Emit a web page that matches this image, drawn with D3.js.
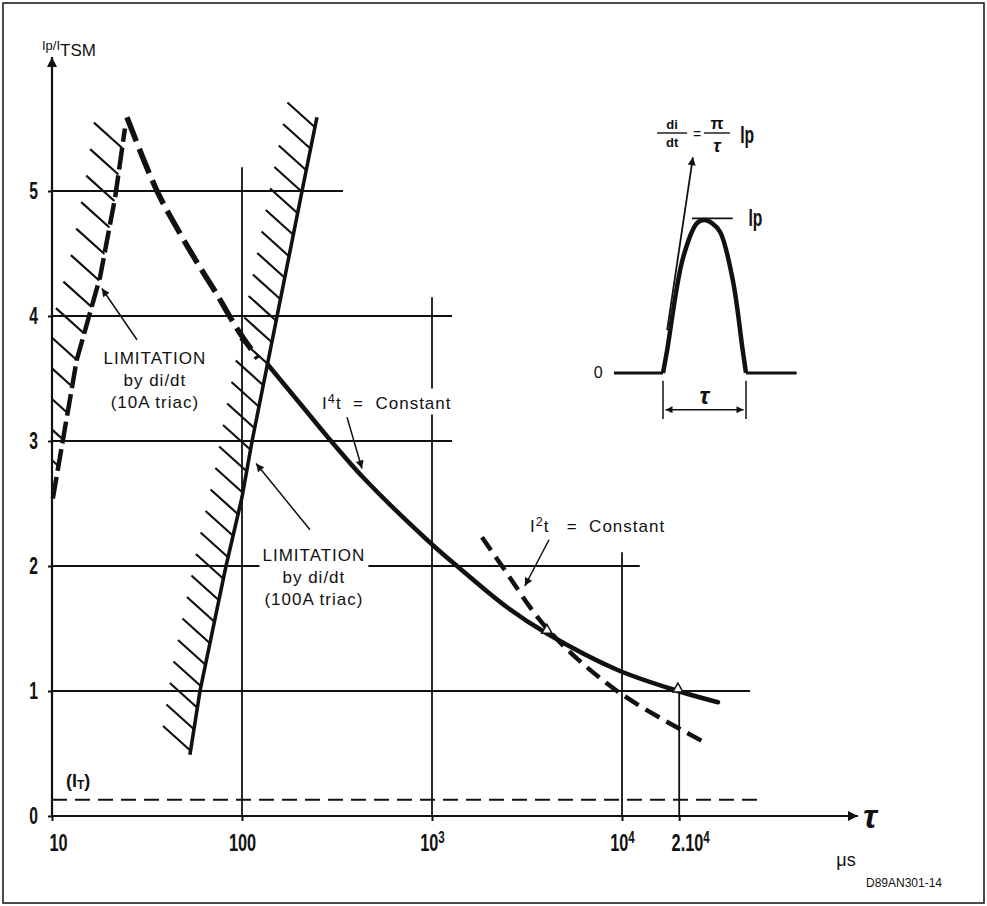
<!DOCTYPE html>
<html><head><meta charset="utf-8">
<script src="https://cdn.jsdelivr.net/npm/d3@7"></script>
<style>
body{margin:0;background:#fff;}
svg{display:block;}
text{font-family:"Liberation Sans",Arial,Helvetica,sans-serif;fill:#111;}
.nar{font-family:"Liberation Sans",Arial,sans-serif;font-weight:bold;}
</style>
</head><body>
<svg id="c" width="987" height="906"></svg>
<script>
// ---------------- DATA ----------------
const xTickValues = [10, 100, 1000, 10000, 20000];
const xTickLabels = ["10", "100", "10^3", "10^4", "2.10^4"];
const yTickValues = [0, 1, 2, 3, 4, 5];
const yTickLabels = ["0", "1", "2", "3", "4", "5"];

// I^4 t = Constant (solid)
const i4tTime  = [137, 202, 298, 433, 988, 1403, 2483, 4027, 9420, 19700, 32000];
const i4tValue = [3.61, 3.30, 2.99, 2.71, 2.18, 1.98, 1.67, 1.46, 1.17, 1.00, 0.91];
// its dashed extension to the left
const i4tExtTime  = [24.8, 35.7, 47.2, 60.1, 72, 95, 121];
const i4tExtValue = [5.59, 5.00, 4.66, 4.39, 4.20, 3.89, 3.66];
// I^2 t = Constant (dashed)
const i2tTime  = [1833, 2335, 4080, 9420, 26400];
const i2tValue = [2.23, 2.00, 1.49, 1.00, 0.60];
// di/dt limitation, 10A triac (dashed, hatched)
const lim10Time  = [10.1, 13.5, 17.9, 21.5, 24.2];
const lim10Value = [2.54, 3.65, 4.31, 4.95, 5.50];
// di/dt limitation, 100A triac (solid, hatched)
const lim100Time  = [53.2, 60.1, 82.4, 100, 113, 153, 207, 248];
const lim100Value = [0.49, 1.00, 2.00, 2.55, 3.00, 4.00, 5.00, 5.59];
// (I_T) level
const itLevel = 0.13, itEndTime = 52000;
// grid segments
const gridHValues = [5, 4, 3, 2, 1];
const gridHEndTime = [340, 1275, 1275, 12400, 47200];
const gridVTimes = [100, 1000, 10000, 20000];
const gridVTop = [5.19, 4.15, 2.11, 1.00];
// marked points on curves
const markTime = [4027, 19700];
const markValue = [1.47, 1.00];
// inset pulse (normalised time, normalised current)
const pulseX = [0, 0.05, 0.24, 0.41, 0.5, 0.59, 0.69, 0.84, 0.96, 1];
const pulseY = [0, 0.15, 0.75, 0.98, 1, 0.98, 0.92, 0.61, 0.15, 0];

// ---------------- SETUP ----------------
const svg = d3.select("#c");
const x = d3.scaleLog().domain([10, 1e5]).range([52, 812]);
const y = d3.scaleLinear().domain([0, 6]).range([816, 66]);
const ink = "#111";
const SQ = 0.68; // horizontal squeeze for condensed bold labels

const defs = svg.append("defs");
function mk(id, w, h) {
  defs.append("marker").attr("id", id).attr("viewBox", "0 0 10 10")
    .attr("refX", 10).attr("refY", 5).attr("markerUnits", "userSpaceOnUse")
    .attr("markerWidth", w).attr("markerHeight", h).attr("orient", "auto-start-reverse")
    .append("path").attr("d", "M0,0 L10,5 L0,10 Z").attr("fill", ink);
}
mk("arr", 16, 8);
mk("axArr", 30, 10);
mk("small", 8, 7);

// frame
svg.append("rect").attr("x", 3).attr("y", 3).attr("width", 981).attr("height", 900)
  .attr("fill", "none").attr("stroke", ink).attr("stroke-width", 1.5);

// ---------------- GRID ----------------
const g = svg.append("g");
gridHValues.forEach((v, i) => {
  g.append("line").attr("x1", x(10)).attr("x2", x(gridHEndTime[i]))
    .attr("y1", y(v)).attr("y2", y(v)).attr("stroke", ink).attr("stroke-width", 1.8);
});
gridVTimes.forEach((t, i) => {
  g.append("line").attr("x1", x(t)).attr("x2", x(t))
    .attr("y1", y(0)).attr("y2", y(gridVTop[i])).attr("stroke", ink).attr("stroke-width", 1.8);
});
// (I_T) dashed level
g.append("line").attr("x1", x(10)).attr("x2", x(itEndTime)).attr("y1", y(itLevel)).attr("y2", y(itLevel))
  .attr("stroke", ink).attr("stroke-width", 2).attr("stroke-dasharray", "15,8");

// ---------------- AXES ----------------
svg.append("line").attr("x1", x(10)).attr("x2", x(10)).attr("y1", y(0)).attr("y2", 57)
  .attr("stroke", ink).attr("stroke-width", 2.2).attr("marker-end", "url(#axArr)");
svg.append("line").attr("x1", x(10)).attr("x2", 858).attr("y1", y(0)).attr("y2", y(0))
  .attr("stroke", ink).attr("stroke-width", 2.2).attr("marker-end", "url(#axArr)");

const xAxis = svg.append("g").attr("transform", `translate(0,${y(0)})`)
  .call(d3.axisBottom(x).tickValues(xTickValues).tickSize(5).tickPadding(13)
    .tickFormat((d, i) => xTickLabels[i]));
xAxis.select(".domain").remove();
xAxis.selectAll(".tick line").attr("stroke", ink).attr("stroke-width", 2);
xAxis.selectAll(".tick text").attr("class", "nar").attr("font-size", 24).attr("fill", ink)
  .attr("transform", `scale(${SQ},1)`)
  .each(function(d, i) {
    const s = xTickLabels[i].split("^");
    const t = d3.select(this).text(null);
    if (i === 0) t.attr("x", 6 / SQ);
    if (i === xTickLabels.length - 1) t.attr("x", 11 / SQ);
    t.append("tspan").text(s[0]);
    if (s[1]) t.append("tspan").attr("dy", "-0.5em").attr("font-size", 17).text(s[1]);
  });

const yAxis = svg.append("g").attr("transform", `translate(${x(10)},0)`)
  .call(d3.axisLeft(y).tickValues(yTickValues).tickSize(4).tickPadding(10)
    .tickFormat((d, i) => yTickLabels[i]));
yAxis.select(".domain").remove();
yAxis.selectAll(".tick line").attr("stroke", ink).attr("stroke-width", 2);
yAxis.selectAll(".tick text").attr("class", "nar").attr("font-size", 23).attr("fill", ink)
  .attr("transform", `scale(${SQ},1)`).attr("x", -14 / SQ);

// y label
const yl = svg.append("text").attr("x", 42).attr("y", 50).attr("font-size", 13);
yl.append("tspan").text("Ip/I");
yl.append("tspan").attr("dy", 6).attr("font-size", 17).text("TSM");
// x label
svg.append("text").attr("x", 870).attr("y", 828).attr("text-anchor", "middle")
  .attr("font-family", "DejaVu Serif, serif").attr("font-style", "italic").attr("font-weight", "bold")
  .attr("font-size", 34).text("τ");
svg.append("text").attr("x", 846).attr("y", 866).attr("text-anchor", "middle").attr("font-size", 18).text("μs");
svg.append("text").attr("x", 904).attr("y", 887).attr("text-anchor", "middle").attr("font-size", 12).text("D89AN301-14");
// (I_T)
const itl = svg.append("text").attr("class", "nar").attr("x", 66).attr("y", 787).attr("font-size", 18);
itl.append("tspan").text("(I");
itl.append("tspan").attr("font-size", 12).attr("dy", 2).text("T");
itl.append("tspan").attr("dy", -2).text(")");

// ---------------- CURVES ----------------
const line = d3.line().x(d => x(d[0])).y(d => y(d[1]));
const smooth = d3.line().x(d => x(d[0])).y(d => y(d[1])).curve(d3.curveCatmullRom);

function hatch(pathNode, spacing, len, yStart, yEnd, clipX) {
  const L = pathNode.getTotalLength();
  const pts = d3.range(0, L, 1).map(l => pathNode.getPointAtLength(l));
  pts.push(pathNode.getPointAtLength(L));
  const ang = 42 * Math.PI / 180;
  const hg = svg.append("g");
  for (let yy = yStart; yy >= yEnd; yy -= spacing) {
    let px = null;
    for (let k = 1; k < pts.length; k++) {
      const a = pts[k - 1], b = pts[k];
      if ((a.y - yy) * (b.y - yy) <= 0 && a.y !== b.y) {
        px = a.x + (yy - a.y) / (b.y - a.y) * (b.x - a.x); break;
      }
    }
    if (px === null) continue;
    let x1 = px - len * Math.cos(ang), y1 = yy - len * Math.sin(ang);
    if (x1 < clipX) { y1 = yy - (px - clipX) * Math.tan(ang); x1 = clipX; }
    if (px - x1 < 3) continue;
    hg.append("line").attr("x1", x1).attr("y1", y1).attr("x2", px).attr("y2", yy)
      .attr("stroke", ink).attr("stroke-width", 2.2);
  }
}

// 100A limitation
const p100 = svg.append("path").datum(d3.zip(lim100Time, lim100Value)).attr("d", line)
  .attr("fill", "none").attr("stroke", ink).attr("stroke-width", 3.6);
hatch(p100.node(), 21.5, 37, y(0.49) - 4, y(5.59), 0);

// 10A limitation
const p10 = svg.append("path").datum(d3.zip(lim10Time, lim10Value)).attr("d", line)
  .attr("fill", "none").attr("stroke", ink).attr("stroke-width", 4.5).attr("stroke-dasharray", "22,6");
hatch(p10.node(), 26.5, 38, y(2.54) - 6, y(5.5), x(10));

// dashed extension of I4t
svg.append("path").datum(d3.zip(i4tExtTime, i4tExtValue)).attr("d", smooth)
  .attr("fill", "none").attr("stroke", ink).attr("stroke-width", 5.5).attr("stroke-dasharray", "26,8");

// I4t solid
svg.append("path").datum(d3.zip(i4tTime, i4tValue)).attr("d", smooth)
  .attr("fill", "none").attr("stroke", ink).attr("stroke-width", 4.5).attr("stroke-linecap", "round");

// I2t dashed
svg.append("path").datum(d3.zip(i2tTime, i2tValue)).attr("d", smooth)
  .attr("fill", "none").attr("stroke", ink).attr("stroke-width", 4.5).attr("stroke-dasharray", "16,8");

// marks
d3.zip(markTime, markValue).forEach(d => {
  svg.append("path").attr("d", d3.symbol(d3.symbolTriangle, 45)())
    .attr("transform", `translate(${x(d[0])},${y(d[1]) - 2})`)
    .attr("fill", "#fff").attr("stroke", ink).attr("stroke-width", 1.5);
});

// ---------------- ANNOTATIONS ----------------
function arrow(from, to) {
  svg.append("line").attr("x1", x(from[0])).attr("y1", y(from[1]))
    .attr("x2", x(to[0])).attr("y2", y(to[1]))
    .attr("stroke", ink).attr("stroke-width", 1.5).attr("marker-end", "url(#arr)");
}
function label(lines, t, v, anchor, size, lh) {
  const grp = svg.append("g");
  const bg = grp.append("rect").attr("fill", "#fff");
  const tx = grp.append("text").attr("font-size", size).attr("text-anchor", anchor)
    .attr("letter-spacing", 1);
  lines.forEach((l, i) => {
    const ts = tx.append("tspan").attr("x", x(t)).attr("y", y(v) + i * lh);
    if (Array.isArray(l)) {
      l.forEach(part => {
        const s = ts.append("tspan").text(part.t);
        if (part.sup) s.attr("dy", -6).attr("font-size", size * 0.75);
        if (part.down) s.attr("dy", 6);
      });
    } else ts.text(l);
  });
  const b = tx.node().getBBox();
  bg.attr("x", b.x - 3).attr("y", b.y - 2).attr("width", b.width + 6).attr("height", b.height + 4);
  return grp;
}
const NB = "\u00a0";

label(["LIMITATION", "by di/dt", "(10A triac)"], 34.8, 3.62, "middle", 17, 22);
arrow([28, 3.81], [18.3, 4.22]);

label(["LIMITATION", "by di/dt", "(100A triac)"], 239, 2.04, "middle", 17, 22);
arrow([228, 2.29], [118.6, 2.82]);

label([[{t: "I"}, {t: "4", sup: true}, {t: "t" + NB + NB + "=" + NB + NB + "Constant", down: true}]], 264, 3.26, "start", 17, 0);
arrow([357, 3.19], [428, 2.78]);

label([[{t: "I"}, {t: "2", sup: true}, {t: "t" + NB + NB + NB + "=" + NB + NB + "Constant", down: true}]], 3280, 2.27, "start", 17, 0);
arrow([4130, 2.21], [3080, 1.84]);

// ---------------- INSET PULSE ----------------
const ix = d3.scaleLinear().domain([0, 1]).range([663, 746]);
const iy = d3.scaleLinear().domain([0, 1]).range([373, 220]);
const ip = d3.line().x(d => ix(d[0])).y(d => iy(d[1]));
svg.append("path").datum(d3.zip(pulseX, pulseY)).attr("d", ip.curve(d3.curveCatmullRom))
  .attr("fill", "none").attr("stroke", ink).attr("stroke-width", 4.5);
svg.append("line").attr("x1", ix(-0.59)).attr("x2", ix(0)).attr("y1", iy(0)).attr("y2", iy(0))
  .attr("stroke", ink).attr("stroke-width", 3);
svg.append("line").attr("x1", ix(1)).attr("x2", ix(1.61)).attr("y1", iy(0)).attr("y2", iy(0))
  .attr("stroke", ink).attr("stroke-width", 3);
svg.append("text").attr("x", ix(-0.78)).attr("y", iy(0) + 5).attr("text-anchor", "middle")
  .attr("font-size", 16).text("0");
// Ip level tick
svg.append("line").attr("x1", ix(0.35)).attr("x2", ix(0.84)).attr("y1", iy(1.01)).attr("y2", iy(1.01))
  .attr("stroke", ink).attr("stroke-width", 1.8);
svg.append("text").attr("class", "nar").attr("x", ix(1.03) / SQ).attr("y", iy(1.01) + 8)
  .attr("transform", `scale(${SQ},1)`).attr("font-size", 23).text("Ip");
// tangent arrow
svg.append("line").attr("x1", ix(0.05)).attr("y1", iy(0.28)).attr("x2", ix(0.36)).attr("y2", iy(1.41))
  .attr("stroke", ink).attr("stroke-width", 1.8).attr("marker-end", "url(#arr)");
// tau dimension
[0, 1].forEach(v => svg.append("line").attr("x1", ix(v)).attr("x2", ix(v))
  .attr("y1", iy(-0.05)).attr("y2", iy(-0.3)).attr("stroke", ink).attr("stroke-width", 1.5));
svg.append("line").attr("x1", ix(0.03)).attr("x2", ix(0.97)).attr("y1", iy(-0.24)).attr("y2", iy(-0.24))
  .attr("stroke", ink).attr("stroke-width", 1.5)
  .attr("marker-start", "url(#small)").attr("marker-end", "url(#small)");
svg.append("text").attr("x", ix(0.5)).attr("y", iy(-0.2)).attr("text-anchor", "middle")
  .attr("font-family", "DejaVu Serif, serif").attr("font-style", "italic").attr("font-weight", "bold")
  .attr("font-size", 24).text("τ");
// formula di/dt = π/τ Ip
const fx = ix(0.11), px2 = ix(0.65);
svg.append("text").attr("x", fx).attr("y", 129).attr("text-anchor", "middle").attr("font-size", 13).attr("font-weight", "bold").text("di");
svg.append("line").attr("x1", fx - 15).attr("x2", fx + 15).attr("y1", 133).attr("y2", 133).attr("stroke", ink).attr("stroke-width", 1.4);
svg.append("text").attr("x", fx).attr("y", 147).attr("text-anchor", "middle").attr("font-size", 13).attr("font-weight", "bold").text("dt");
svg.append("text").attr("x", ix(0.41)).attr("y", 139).attr("text-anchor", "middle").attr("font-size", 14).text("=");
svg.append("text").attr("x", px2).attr("y", 129).attr("text-anchor", "middle").attr("font-size", 17)
  .attr("font-family", "DejaVu Serif, serif").attr("font-weight", "bold").text("π");
svg.append("line").attr("x1", px2 - 13).attr("x2", px2 + 13).attr("y1", 133).attr("y2", 133).attr("stroke", ink).attr("stroke-width", 1.4);
svg.append("text").attr("x", px2).attr("y", 152).attr("text-anchor", "middle").attr("font-size", 18)
  .attr("font-family", "DejaVu Serif, serif").attr("font-style", "italic").attr("font-weight", "bold").text("τ");
svg.append("text").attr("class", "nar").attr("x", ix(0.93) / SQ).attr("y", 143)
  .attr("transform", `scale(${SQ},1)`).attr("font-size", 23).text("Ip");
</script>
</body></html>
